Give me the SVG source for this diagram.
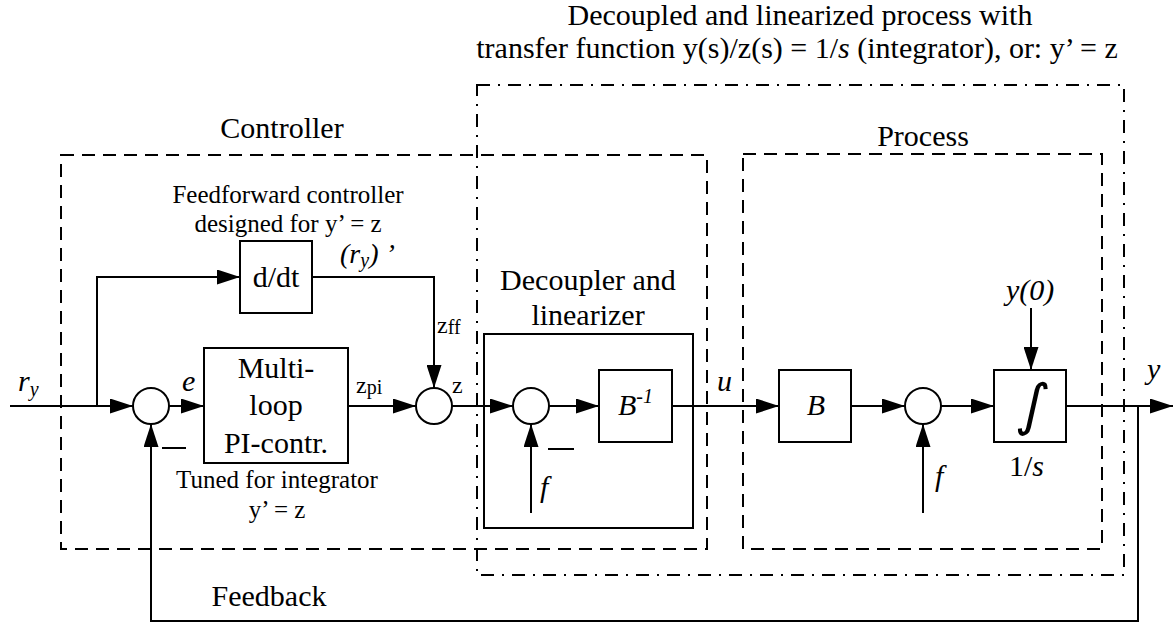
<svg xmlns="http://www.w3.org/2000/svg" width="1174" height="623" viewBox="0 0 1174 623" font-family="'Liberation Serif', 'DejaVu Serif', serif">
<defs>
<marker id="arr" markerUnits="userSpaceOnUse" markerWidth="23" markerHeight="15" refX="23" refY="7.5" orient="auto">
<path d="M0,0 L23,7.5 L0,15 z" fill="#000"/>
</marker>
<style>
text{font-family:'Liberation Serif','DejaVu Serif',serif;fill:#000}
.big{font-size:30px}
.sm{font-size:25px}
.it{font-style:italic}
.c{text-anchor:middle}
.blk{fill:#fff;stroke:#000;stroke-width:2}
.dash{fill:none;stroke:#000;stroke-width:2;stroke-dasharray:13 8}
.dd{fill:none;stroke:#000;stroke-width:2;stroke-dasharray:13 8 2 8}
.ln{fill:none;stroke:#000;stroke-width:2}
.wire{fill:none;stroke:#000;stroke-width:2;marker-end:url(#arr)}
.int{font-family:'DejaVu Sans',sans-serif;font-size:56px;text-anchor:middle}
</style>
</defs>
<rect width="1174" height="623" fill="#fff"/>

<g id="frames">
<rect class="dash" x="61" y="155" width="646" height="394"/>
<rect class="dash" x="743" y="154" width="359" height="395"/>
<rect class="dd" x="477" y="85" width="647" height="490"/>
</g>

<g id="labels">
<text class="big" x="800" y="25" text-anchor="middle">Decoupled and linearized process with</text>
<text class="big" x="797" y="58" text-anchor="middle">transfer function y(s)/z(s) = 1/<tspan font-style="italic">s</tspan> (integrator), or: y’ = z</text>
<text class="big c" x="282" y="138">Controller</text>
<text class="big c" x="923" y="146">Process</text>
<text class="sm c" x="288" y="203">Feedforward controller</text>
<text class="sm c" x="288" y="232">designed for y’ = z</text>
<text class="sm c" x="277" y="488">Tuned for integrator</text>
<text class="sm c" x="277" y="518">y’ = z</text>
<text class="big c" x="269" y="606">Feedback</text>
</g>

<g id="connectors">
<path class="wire" d="M10,406 H133"/>
<path class="wire" d="M97,406 V277 H240"/>
<path class="wire" d="M169,406 H204"/>
<path class="wire" d="M348,406 H416"/>
<path class="wire" d="M312,277 H434 V388"/>
<path class="wire" d="M452,406 H513"/>
<path class="wire" d="M549,406 H599"/>
<path class="wire" d="M672,406 H779"/>
<path class="wire" d="M851,406 H905"/>
<path class="wire" d="M941,406 H994"/>
<path class="wire" d="M1066,406 H1173"/>
<path class="wire" d="M1138,406 V621 H151 V424"/>
<path class="wire" d="M531,513 V424"/>
<path class="wire" d="M923,513 V424"/>
<path class="wire" d="M1031,308 V370"/>
</g>

<g id="signal-labels">
<text class="big it" x="18" y="391">r<tspan font-size="20" dy="5">y</tspan></text>
<text class="big it" x="182" y="391">e</text>
<text x="356" y="393" font-size="24">z<tspan font-size="20" dy="1">pi</tspan></text>
<text x="437" y="333" font-size="24">z<tspan font-size="20" dy="1">ff</tspan></text>
<text x="452" y="393" font-size="24">z</text>
<text class="it" x="340" y="263" font-size="28">(r<tspan font-size="20" dy="4">y</tspan><tspan dy="-4">)</tspan> ’</text>
<text class="big it" x="717" y="391">u</text>
<text class="big it" x="540" y="497">f</text>
<text class="big it" x="935" y="486">f</text>
<text class="big it" x="1006" y="300">y(0)</text>
<text class="big it" x="1147" y="379">y</text>
<line class="ln" x1="162" y1="448" x2="186" y2="448"/>
<line class="ln" x1="548" y1="449" x2="574" y2="449"/>
</g>

<g id="sum1"><circle class="blk" cx="151" cy="406" r="18"/></g>
<g id="sum2"><circle class="blk" cx="434" cy="406" r="18"/></g>
<g id="sum3"><circle class="blk" cx="531" cy="406" r="18"/></g>
<g id="sum4"><circle class="blk" cx="923" cy="406" r="18"/></g>

<g id="ddt">
<rect class="blk" x="240" y="241" width="72" height="72"/>
<text class="big c" x="276" y="287">d/dt</text>
</g>

<g id="pi">
<rect class="blk" x="204" y="348" width="144" height="115"/>
<text class="big c" x="276" y="378">Multi-</text>
<text class="big c" x="276" y="415">loop</text>
<text class="big c" x="276" y="453">PI-contr.</text>
</g>

<g id="decoupler">
<rect class="ln" x="484" y="334" width="209" height="194"/>
<text class="big c" x="588" y="290">Decoupler and</text>
<text class="big c" x="588" y="325">linearizer</text>
</g>

<g id="binv">
<rect class="blk" x="599" y="370" width="73" height="72"/>
<text class="big it" x="618" y="415">B<tspan font-size="20" dy="-12">-1</tspan></text>
</g>

<g id="bblock">
<rect class="blk" x="779" y="370" width="72" height="72"/>
<text class="big it c" x="816" y="415">B</text>
</g>

<g id="integrator">
<rect class="blk" x="994" y="370" width="72" height="72"/>
<text class="int" transform="translate(1030,424) skewX(-10)">∫</text>
<text class="big" x="1009" y="476">1/<tspan font-style="italic">s</tspan></text>
</g>
</svg>
